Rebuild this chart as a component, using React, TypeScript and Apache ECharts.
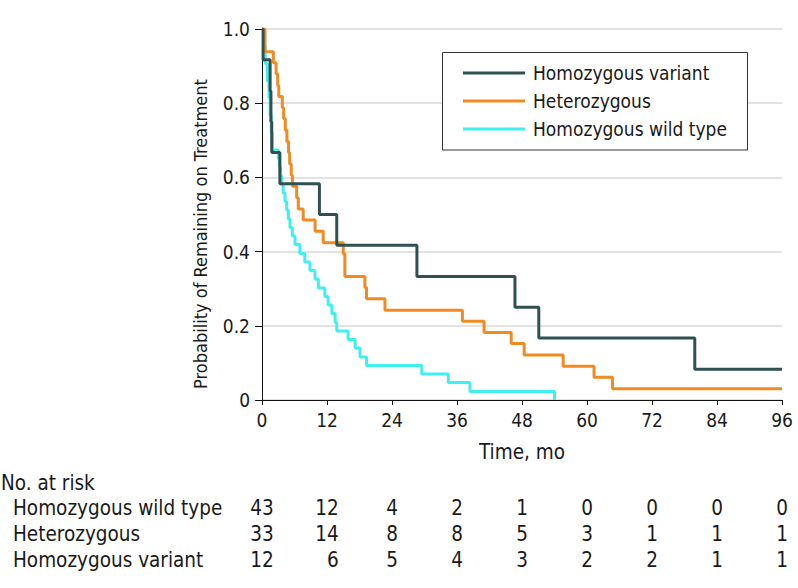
import React, { useEffect, useRef } from 'react';
import * as echarts from 'echarts';

const FONT = "'DejaVu Sans Condensed', 'DejaVu Sans', sans-serif";
const TEXT = '#1a1a1a';
const TABLE_FS = 20.5;

const seriesNames = ['Homozygous variant', 'Heterozygous', 'Homozygous wild type'];
const seriesColors = ['#2f5250', '#f28a22', '#3ff0f0'];

const variantTimes = [0, 0.2, 1.5, 1.65, 1.8, 3.3, 10.6, 13.8, 28.6, 46.7, 51.1, 79.9, 96];
const variantSurv = [1, 0.917, 0.833, 0.75, 0.667, 0.583, 0.5, 0.417, 0.333, 0.25, 0.167, 0.083, 0.083];

const heteroTimes = [0, 0.55, 2.1, 2.6, 2.9, 3.1, 3.75, 4.0, 4.3, 4.6, 4.9, 5.1, 5.4, 5.6, 6.4, 6.7, 7.6, 9.8, 11.3, 15.0, 15.3, 19.0, 19.3, 22.7, 37.0, 41.0, 46.0, 48.4, 55.6, 61.3, 64.7, 96];
const heteroSurv = [1, 0.939, 0.909, 0.879, 0.848, 0.818, 0.788, 0.758, 0.727, 0.697, 0.667, 0.636, 0.606, 0.576, 0.545, 0.515, 0.485, 0.455, 0.424, 0.394, 0.333, 0.303, 0.273, 0.242, 0.212, 0.182, 0.152, 0.121, 0.091, 0.061, 0.030, 0.030];

const wildTimes = [0, 0.3, 0.6, 1.0, 1.3, 1.5, 1.7, 1.9, 3.0, 3.2, 3.4, 3.6, 3.9, 4.25, 4.55, 4.86, 5.17, 5.6, 6.1, 7.0, 7.9, 8.86, 9.78, 10.4, 11.6, 12.2, 12.9, 13.5, 13.8, 15.9, 17.2, 18.1, 19.3, 29.5, 34.4, 38.4, 54.0];
const wildSurv = [1, 0.953, 0.907, 0.860, 0.814, 0.767, 0.721, 0.674, 0.651, 0.628, 0.605, 0.581, 0.558, 0.535, 0.512, 0.488, 0.465, 0.442, 0.419, 0.395, 0.372, 0.349, 0.326, 0.302, 0.279, 0.256, 0.233, 0.209, 0.186, 0.163, 0.140, 0.116, 0.093, 0.070, 0.047, 0.023, 0];

const xTicks = [0, 12, 24, 36, 48, 60, 72, 84, 96];
const yTicks = [0, 0.2, 0.4, 0.6, 0.8, 1.0];

const riskLabels = ['Homozygous wild type', 'Heterozygous', 'Homozygous variant'];
const riskWild = [43, 12, 4, 2, 1, 0, 0, 0, 0];
const riskHetero = [33, 14, 8, 8, 5, 3, 1, 1, 1];
const riskVariant = [12, 6, 5, 4, 3, 2, 2, 1, 1];

const zip = (t: number[], s: number[]) => t.map((v, i) => [v, s[i]]);

export default function App() {
  const ref = useRef<HTMLDivElement>(null);
  useEffect(() => {
    const chart = echarts.init(ref.current!, null, { renderer: 'svg' });
    const mkSeries = (name: string, color: string, data: number[][], z: number) => ({
      name,
      type: 'line',
      step: 'end',
      symbol: 'none',
      data,
      z,
      lineStyle: { color, width: 3 },
      itemStyle: { color },
    });
    chart.setOption({
      animation: false,
      grid: { left: 262, top: 29, width: 520, height: 371, containLabel: false },
      xAxis: {
        type: 'value',
        min: xTicks[0],
        max: xTicks[xTicks.length - 1],
        interval: 12,
        axisLine: { lineStyle: { color: '#111', width: 1 } },
        axisTick: { show: true, length: 5, lineStyle: { color: '#111' } },
        axisLabel: { margin: 10, fontSize: 19, fontFamily: FONT, color: TEXT },
        splitLine: { show: false },
      },
      yAxis: {
        type: 'value',
        min: yTicks[0],
        max: yTicks[yTicks.length - 1],
        interval: 0.2,
        axisLine: { show: true, lineStyle: { color: '#111', width: 1 } },
        axisTick: { show: true, length: 7, lineStyle: { color: '#111' } },
        axisLabel: {
          margin: 12,
          fontSize: 19,
          fontFamily: FONT,
          color: TEXT,
          formatter: (v: number) => (v === 0 ? '0' : v.toFixed(1)),
        },
        splitLine: { show: true, lineStyle: { color: '#d9d9d9', width: 1.5 } },
      },
      legend: {
        show: true,
        orient: 'vertical',
        left: 463,
        top: 63,
        padding: 0,
        itemGap: 8,
        itemWidth: 62,
        itemHeight: 3,
        icon: 'rect',
        data: seriesNames,
        textStyle: { fontSize: 19, lineHeight: 20, fontFamily: FONT, color: TEXT, padding: [0, 0, 0, 3] },
        z: 10,
      },
      series: [
        mkSeries(seriesNames[2], seriesColors[2], zip(wildTimes, wildSurv), 2),
        mkSeries(seriesNames[1], seriesColors[1], zip(heteroTimes, heteroSurv), 3),
        mkSeries(seriesNames[0], seriesColors[0], zip(variantTimes, variantSurv), 4),
      ],
    });

    const px = (t: number) => chart.convertToPixel({ xAxisIndex: 0 }, t) as number;
    const graphics: any[] = [];
    graphics.push({
      type: 'rect',
      z: 5,
      shape: { x: 442.5, y: 52.5, width: 305, height: 97.5 },
      style: { fill: '#fff', stroke: '#333', lineWidth: 1 },
    });
    graphics.push({
      type: 'text',
      x: 200,
      y: 234,
      rotation: Math.PI / 2,
      style: { text: 'Probability of Remaining on Treatment', fontSize: 18, fontFamily: FONT, fill: TEXT, align: 'center', verticalAlign: 'middle' },
    });
    graphics.push({
      type: 'text',
      x: (px(0) + px(96)) / 2,
      y: 452,
      style: { text: 'Time, mo', fontSize: TABLE_FS, fontFamily: FONT, fill: TEXT, align: 'center', verticalAlign: 'middle' },
    });
    graphics.push({
      type: 'text',
      x: 1,
      y: 483,
      style: { text: 'No. at risk', fontSize: TABLE_FS, fontFamily: FONT, fill: TEXT, align: 'left', verticalAlign: 'middle' },
    });
    const rows = [riskWild, riskHetero, riskVariant];
    const rowY = [508, 534, 560];
    rows.forEach((row, r) => {
      graphics.push({
        type: 'text',
        x: 13,
        y: rowY[r],
        style: { text: riskLabels[r], fontSize: TABLE_FS, fontFamily: FONT, fill: TEXT, align: 'left', verticalAlign: 'middle' },
      });
    });
    const halfDigit = (TABLE_FS * 0.573) / 2;
    xTicks.forEach((t, c) => {
      const maxLen = Math.max(...rows.map((row) => String(row[c]).length));
      const right = px(t) + maxLen * halfDigit;
      rows.forEach((row, r) => {
        graphics.push({
          type: 'text',
          x: right,
          y: rowY[r],
          style: { text: String(row[c]), fontSize: TABLE_FS, fontFamily: FONT, fill: TEXT, align: 'right', verticalAlign: 'middle' },
        });
      });
    });
    chart.setOption({ graphic: graphics });
    return () => chart.dispose();
  }, []);
  return <div ref={ref} style={{ position: 'absolute', left: 0, top: 0, width: 798, height: 588 }} />;
}
